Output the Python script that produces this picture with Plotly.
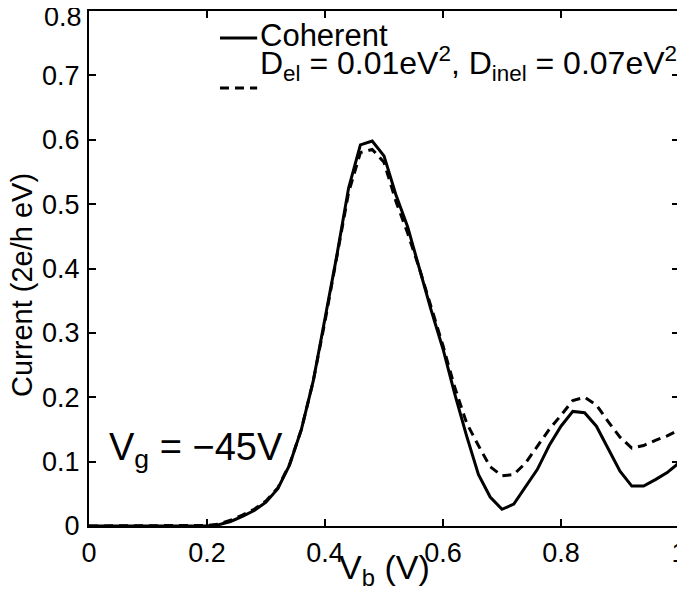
import plotly.graph_objects as go

# bias voltage (V)
vb = [0.00, 0.02, 0.04, 0.06, 0.08, 0.10, 0.12, 0.14, 0.16, 0.18,
      0.20, 0.22, 0.24, 0.26, 0.28, 0.30, 0.32, 0.34, 0.36, 0.38,
      0.40, 0.42, 0.44, 0.46, 0.48, 0.50, 0.52, 0.54, 0.56, 0.58,
      0.60, 0.62, 0.64, 0.66, 0.68, 0.70, 0.72, 0.74, 0.76, 0.78,
      0.80, 0.82, 0.84, 0.86, 0.88, 0.90, 0.92, 0.94, 0.96, 0.98, 1.00]

# coherent current
coherent = [0.0, 0.0, 0.0, 0.0, 0.0, 0.0, 0.0, 0.0, 0.0, 0.0,
            0.0, 0.002, 0.007, 0.015, 0.024, 0.037, 0.058, 0.095, 0.150, 0.225,
            0.320, 0.420, 0.525, 0.592, 0.598, 0.575, 0.515, 0.465, 0.400, 0.335,
            0.275, 0.205, 0.140, 0.080, 0.045, 0.026, 0.034, 0.060, 0.088, 0.125,
            0.155, 0.178, 0.176, 0.155, 0.120, 0.085, 0.062, 0.062, 0.072, 0.083, 0.098]

# with dephasing D_el = 0.01, D_inel = 0.07
dephased = [0.0, 0.0, 0.0, 0.0, 0.0, 0.0, 0.0, 0.0, 0.0, 0.0,
            0.001, 0.003, 0.009, 0.017, 0.026, 0.039, 0.059, 0.096, 0.150, 0.225,
            0.318, 0.418, 0.518, 0.580, 0.585, 0.565, 0.505, 0.455, 0.400, 0.340,
            0.280, 0.215, 0.160, 0.125, 0.092, 0.078, 0.080, 0.098, 0.125, 0.150,
            0.172, 0.195, 0.200, 0.188, 0.162, 0.138, 0.121, 0.125, 0.133, 0.140, 0.149]

x_ticks = [0, 0.2, 0.4, 0.6, 0.8, 1]
x_labels = ["0", "0.2", "0.4", "0.6", "0.8", "1"]
y_ticks = [0, 0.1, 0.2, 0.3, 0.4, 0.5, 0.6, 0.7, 0.8]
y_labels = ["0", "0.1", "0.2", "0.3", "0.4", "0.5", "0.6", "0.7", "0.8"]

FONT = "Liberation Sans, Arial, Helvetica, sans-serif"

fig = go.Figure()
fig.add_trace(go.Scatter(x=vb, y=coherent, mode="lines",
                         line=dict(color="black", width=3), showlegend=False))
fig.add_trace(go.Scatter(x=vb, y=dephased, mode="lines",
                         line=dict(color="black", width=3, dash="9px,6px"),
                         showlegend=False))

axis_style = dict(showline=True, linecolor="black", linewidth=2, mirror="ticks",
                  ticks="inside", ticklen=7, tickwidth=2, tickcolor="black",
                  showgrid=False, zeroline=False, automargin=False,
                  ticklabeloverflow="allow",
                  tickfont=dict(family=FONT, size=27, color="black"))

fig.update_xaxes(range=[0, 1], tickvals=x_ticks, ticktext=x_labels,
                 ticklabelstandoff=2, **axis_style)
# top label (0.8) is drawn separately, nudged down so it is not clipped
fig.update_yaxes(range=[0, 0.8], tickvals=y_ticks, ticktext=y_labels[:-1] + [""],
                 ticklabelstandoff=2, **axis_style)

ann_font = dict(family=FONT, color="black")
fig.add_annotation(text=y_labels[-1], xref="paper", yref="y", x=0, y=y_ticks[-1],
                   xanchor="right", yanchor="middle", xshift=-5, yshift=-6,
                   showarrow=False, font=dict(size=27, **ann_font))

# hand-made legend (samples + text)
fig.add_shape(type="line", xref="paper", yref="paper", x0=0.222, x1=0.285,
              y0=0.9476, y1=0.9476, line=dict(color="black", width=3))
fig.add_shape(type="line", xref="paper", yref="paper", x0=0.222, x1=0.285,
              y0=0.8505, y1=0.8505, line=dict(color="black", width=3, dash="9px,6px"))

fig.add_annotation(text="Coherent", xref="paper", yref="paper", x=0.2864, y=0.952,
                   xanchor="left", yanchor="middle", showarrow=False,
                   font=dict(size=31, **ann_font))
fig.add_annotation(text="D<sub>el</sub> = 0.01eV<sup>2</sup>, D<sub>inel</sub> = 0.07eV<sup>2</sup>",
                   xref="paper", yref="paper", x=0.2864, y=0.899,
                   xanchor="left", yanchor="middle", showarrow=False,
                   font=dict(size=32, **ann_font))

fig.add_annotation(text="V<sub>g</sub> = −45V", xref="paper", yref="paper",
                   x=0.0305, y=0.148, xanchor="left", yanchor="middle",
                   showarrow=False, font=dict(size=38, **ann_font))

# axis titles
fig.add_annotation(text="V<sub>b</sub> (V)", xref="paper", yref="paper",
                   x=0.5, y=-0.085, xanchor="center", yanchor="middle",
                   showarrow=False, font=dict(size=34, **ann_font))
fig.add_annotation(text="Current (2e/h eV)", xref="paper", yref="paper",
                   x=-0.1136, y=0.468, xanchor="center", yanchor="middle",
                   textangle=-90, showarrow=False, font=dict(size=29, **ann_font))

# page body adds an 8px offset, so the figure is sized 8px smaller
fig.update_layout(width=677, height=597,
                  margin=dict(l=81, r=6, t=3, b=79),
                  plot_bgcolor="white", paper_bgcolor="white",
                  font=dict(family=FONT, color="black"))

fig.write_html("out.html")
